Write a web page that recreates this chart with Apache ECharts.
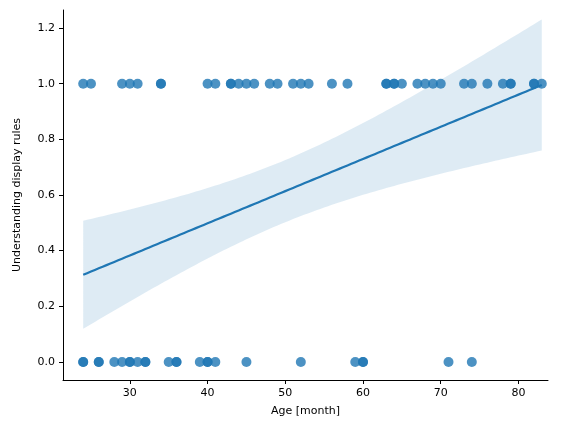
<!DOCTYPE html>
<html>
<head>
<meta charset="utf-8">
<script src="https://cdn.jsdelivr.net/npm/echarts@6/dist/echarts.min.js"></script>
<style>html,body{margin:0;padding:0;background:#fff}#chart{width:567px;height:433px}</style>
</head>
<body>
<div id="chart"></div>
<script>
// Ages (months) of children who understood (1) or did not (0)
const agesYes = [24, 25, 29, 30, 31, 34, 34, 40, 41, 43, 43, 44, 45, 46, 48, 49, 51, 52, 53, 56, 58,
  63, 63, 64, 64, 65, 67, 68, 69, 70, 73, 74, 76, 78, 79, 79, 82, 82, 83];
const agesNo = [24, 24, 26, 26, 28, 29, 30, 30, 31, 32, 32, 35, 36, 36, 39, 40, 40, 41, 45, 52, 59, 60, 60, 71, 74];

// linear fit + 95% CI of the mean, computed from the data
const pts = agesYes.map(a => [a, 1]).concat(agesNo.map(a => [a, 0]));
const n = pts.length;
const mx = pts.reduce((s, p) => s + p[0], 0) / n;
const my = pts.reduce((s, p) => s + p[1], 0) / n;
let sxx = 0, sxy = 0;
pts.forEach(p => { sxx += (p[0] - mx) ** 2; sxy += (p[0] - mx) * (p[1] - my); });
const b = sxy / sxx, a0 = my - b * mx;
let sse = 0;
pts.forEach(p => { sse += (p[1] - a0 - b * p[0]) ** 2; });
const se = Math.sqrt(sse / (n - 2));
const t = 1.995;
const xs = [];
for (let x = 24; x <= 83.001; x += 0.5) xs.push(x);
const fit = xs.map(x => [x, a0 + b * x]);
const band = xs.map(x => {
  const h = t * se * Math.sqrt(1 / n + (x - mx) ** 2 / sxx);
  return [x, a0 + b * x - h, a0 + b * x + h];
});

const blue = '#1f77b4';
const fontFam = 'DejaVu Sans';
const nice = (v, step) => Math.abs(v / step - Math.round(v / step)) < 1e-3;

const chart = echarts.init(document.getElementById('chart'));
chart.setOption({
  animation: false,
  grid: { left: 63, right: 19, top: 10, bottom: 53 },
  xAxis: {
    type: 'value', min: 21.4, max: 83.8, splitNumber: 6,
    name: 'Age [month]', nameLocation: 'middle', nameGap: 26,
    nameTextStyle: { color: '#000', fontSize: 11, fontFamily: fontFam },
    axisLine: { show: true, onZero: false, lineStyle: { color: '#000' } },
    axisTick: { show: true, length: 4, lineStyle: { color: '#000' } },
    axisLabel: { color: '#000', fontSize: 11, fontFamily: fontFam, showMinLabel: false, showMaxLabel: false,
      formatter: v => nice(v, 10) ? String(Math.round(v)) : '' },
    splitLine: { show: false }
  },
  yAxis: {
    type: 'value', min: -0.065, max: 1.265, splitNumber: 7,
    name: 'Understanding display rules', nameLocation: 'middle', nameGap: 40,
    nameTextStyle: { color: '#000', fontSize: 11, fontFamily: fontFam },
    axisLine: { show: true, onZero: false, lineStyle: { color: '#000' } },
    axisTick: { show: true, length: 4, lineStyle: { color: '#000' } },
    axisLabel: { color: '#000', fontSize: 11, fontFamily: fontFam, showMinLabel: false, showMaxLabel: false,
      formatter: v => nice(v, 0.2) ? v.toFixed(1) : '' },
    splitLine: { show: false }
  },
  series: [
    {
      type: 'custom', silent: true, data: [0], z: 1,
      renderItem: (params, api) => {
        const upper = band.map(d => api.coord([d[0], d[2]]));
        const low = band.map(d => api.coord([d[0], d[1]])).reverse();
        return { type: 'polygon', shape: { points: upper.concat(low) },
          style: { fill: blue, opacity: 0.15 } };
      }
    },
    { type: 'scatter', data: pts, symbolSize: 10, itemStyle: { color: blue, opacity: 0.8 }, z: 3 },
    { type: 'line', data: fit, symbol: 'none', lineStyle: { color: blue, width: 2.2 }, z: 5 }
  ]
});
</script>
</body>
</html>
